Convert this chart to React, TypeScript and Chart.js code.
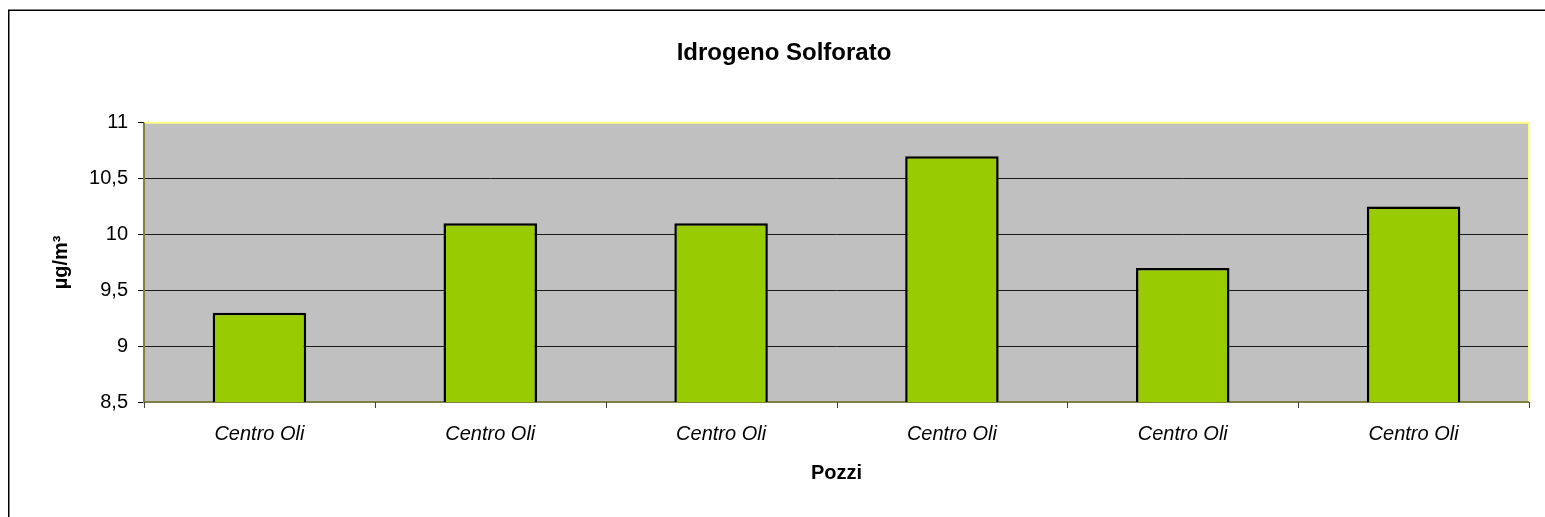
import { useEffect, useRef } from "react";
import { Chart, registerables } from "chart.js";

Chart.register(...registerables);

const categories = ["Centro Oli", "Centro Oli", "Centro Oli", "Centro Oli", "Centro Oli", "Centro Oli"];
const values = [9.3, 10.1, 10.1, 10.7, 9.7, 10.25];
const yMin = 8.5;
const yMax = 11;
const yStep = 0.5;
const chartTitle = "Idrogeno Solforato";
const xTitle = "Pozzi";
const yTitle = "µg/m³";

const FONT = "'Liberation Sans', Arial, sans-serif";
const W = 1545;
const H = 517;

const decorPlugin = {
  id: "decor",
  beforeDraw(chart: any) {
    const { ctx, chartArea: a, width, height } = chart;
    ctx.save();
    ctx.fillStyle = "#ffffff";
    ctx.fillRect(0, 0, width, height);
    ctx.fillStyle = "#C0C0C0";
    ctx.fillRect(a.left, a.top, a.right - a.left, a.bottom - a.top);
    ctx.strokeStyle = "#000000";
    ctx.lineWidth = 1.5;
    ctx.beginPath();
    ctx.moveTo(8.75, height);
    ctx.lineTo(8.75, 10.25);
    ctx.lineTo(width, 10.25);
    ctx.stroke();
    ctx.restore();
  },
  beforeDatasetsDraw(chart: any) {
    const { ctx, chartArea: a } = chart;
    ctx.save();
    ctx.lineWidth = 2;
    ctx.strokeStyle = "#FFFF80";
    ctx.beginPath();
    ctx.moveTo(a.left, a.top);
    ctx.lineTo(a.right, a.top);
    ctx.lineTo(a.right, a.bottom);
    ctx.stroke();
    ctx.strokeStyle = "#808040";
    ctx.beginPath();
    ctx.moveTo(a.left, a.top);
    ctx.lineTo(a.left, a.bottom);
    ctx.lineTo(a.right, a.bottom);
    ctx.stroke();
    ctx.strokeStyle = "#404040";
    ctx.lineWidth = 1;
    const n = categories.length;
    const step = (a.right - a.left) / n;
    for (let k = 0; k <= n; k++) {
      const x = Math.round(a.left + k * step) + 0.5;
      ctx.beginPath();
      ctx.moveTo(x, a.bottom);
      ctx.lineTo(x, a.bottom + 6);
      ctx.stroke();
    }
    ctx.restore();
  },
};

export default function App() {
  const ref = useRef<HTMLCanvasElement | null>(null);
  useEffect(() => {
    if (!ref.current) return;
    const chart = new Chart(ref.current, {
      type: "bar",
      data: {
        labels: categories,
        datasets: [
          {
            data: values,
            backgroundColor: "#99CC00",
            borderColor: "#000000",
            borderWidth: 2.5,
            borderSkipped: false,
            barPercentage: 0.405,
            categoryPercentage: 1,
          },
        ],
      },
      options: {
        responsive: false,
        animation: false,
        devicePixelRatio: 1,
        layout: { padding: { left: 39, right: 16, top: 0, bottom: 0 } },
        plugins: {
          legend: { display: false },
          tooltip: { enabled: false },
          title: {
            display: true,
            text: chartTitle,
            color: "#000",
            font: { family: FONT, size: 24, weight: "bold" },
            padding: { top: 39, bottom: 55 },
          },
        },
        scales: {
          x: {
            grid: { display: false, drawTicks: false },
            border: { display: false },
            ticks: {
              color: "#000",
              font: { family: FONT, size: 20, style: "italic" },
              padding: 20,
              maxRotation: 0,
            },
            title: {
              display: true,
              text: xTitle,
              color: "#000",
              font: { family: FONT, size: 20, weight: "bold" },
              padding: { top: 0, bottom: 32 },
            },
            afterFit(scale: any) {
              scale.height = 115;
            },
          },
          y: {
            min: yMin,
            max: yMax,
            border: { display: false },
            grid: {
              color: (c: any) =>
                c.tick && (c.tick.value === yMin || c.tick.value === yMax) ? "rgba(0,0,0,0)" : "#1a1a1a",
              tickColor: "#000000",
              tickLength: 6,
              lineWidth: 1,
            },
            ticks: {
              stepSize: yStep,
              color: "#000",
              padding: 10,
              font: { family: FONT, size: 20 },
              callback: (v: any) => String(v).replace(".", ","),
            },
            title: {
              display: true,
              text: yTitle,
              color: "#000",
              font: { family: FONT, size: 20, weight: "bold" },
              padding: { top: 10, bottom: 0 },
            },
            afterFit(scale: any) {
              scale.width = 105;
            },
          },
        },
      },
      plugins: [decorPlugin],
    });
    return () => chart.destroy();
  }, []);
  return (
    <canvas
      ref={ref}
      width={W}
      height={H}
      style={{ position: "absolute", left: 0, top: 0, width: W, height: H }}
    />
  );
}
